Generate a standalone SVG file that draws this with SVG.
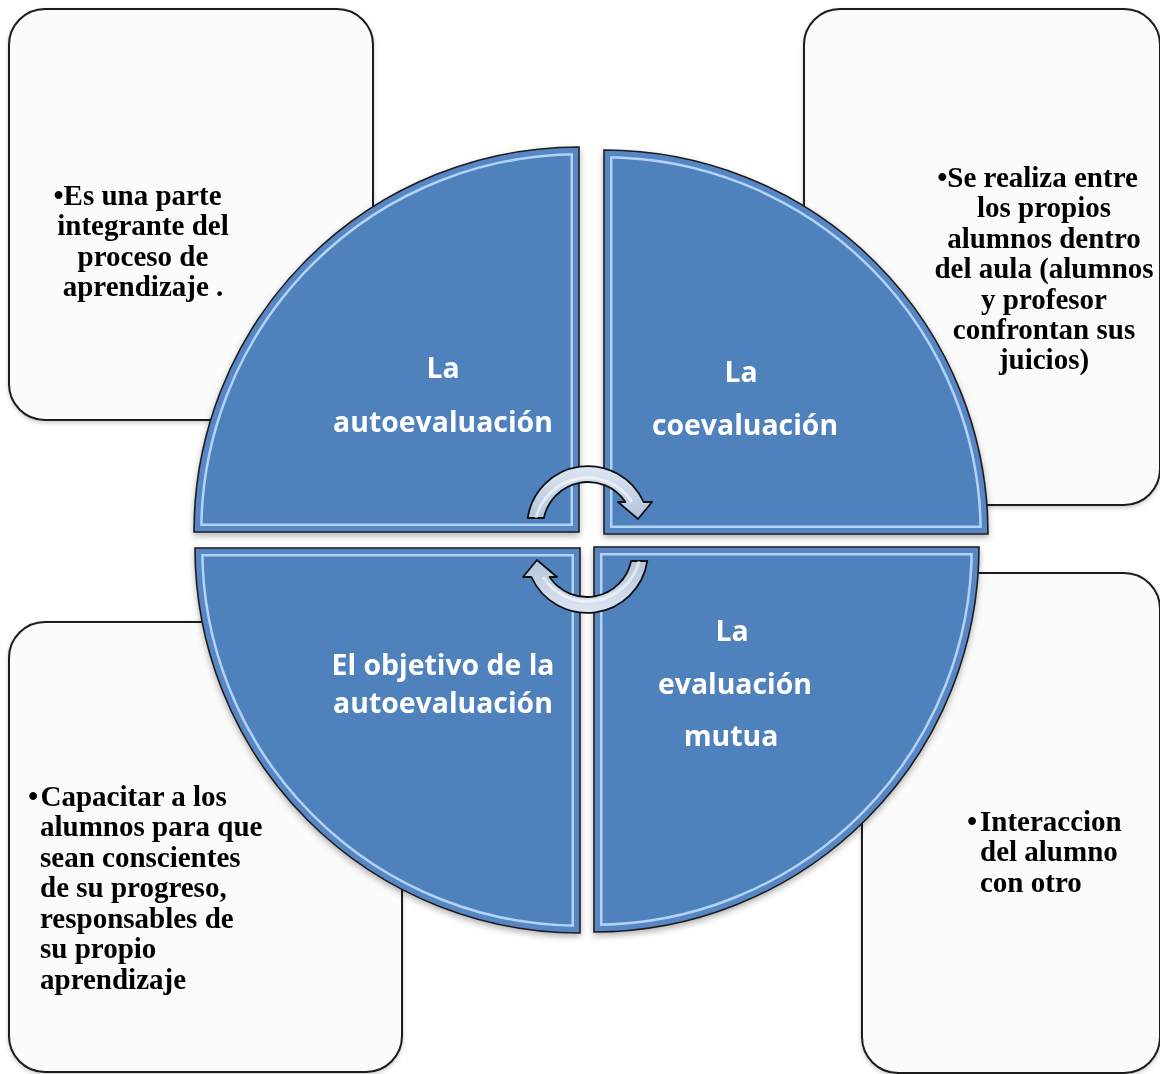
<svg xmlns="http://www.w3.org/2000/svg" width="1160" height="1074" viewBox="0 0 1160 1074">
<style>
.box{fill:#fbfbfb;stroke:#1a1a1a;stroke-width:2}
.btxt{font-family:"Liberation Serif","Times New Roman",serif;font-weight:bold;font-size:29px;fill:#000}
.stxt{font-family:"Open Sans","Noto Sans",sans-serif;font-weight:bold;font-size:28.4px;fill:#fff;text-anchor:middle}
.base{fill:#4f81bd;stroke:#b3d3f5;stroke-width:17}
.band{fill:none;stroke:#5787c4;stroke-width:12;stroke-linejoin:miter}
.edge{fill:none;stroke:#1e1e1e;stroke-width:1.6}
.arrow{fill:url(#ag);stroke:#111;stroke-width:1.8;stroke-linejoin:round}
</style>
<defs>
<filter id="sh" x="-10%" y="-10%" width="130%" height="130%"><feDropShadow dx="0" dy="3" stdDeviation="3" flood-color="#000" flood-opacity="0.3"/></filter>
<filter id="shb" x="-10%" y="-10%" width="130%" height="130%"><feDropShadow dx="0" dy="2" stdDeviation="2" flood-color="#000" flood-opacity="0.2"/></filter>
<linearGradient id="ag" x1="0" y1="0" x2="0" y2="1"><stop offset="0" stop-color="#dde6f2"/><stop offset="1" stop-color="#b4c4dc"/></linearGradient>
<path id="pTL" d="M579,532 L194,532 A385,385 0 0 1 579,147 Z"/>
<path id="pTR" d="M604,534 L604,150 A384,384 0 0 1 988,534 Z"/>
<path id="pBL" d="M580,548 L580,933 A385,385 0 0 1 195,548 Z"/>
<path id="pBR" d="M594,547 L979,547 A385,385 0 0 1 594,932 Z"/>
<clipPath id="cTL"><use href="#pTL"/></clipPath>
<clipPath id="cTR"><use href="#pTR"/></clipPath>
<clipPath id="cBL"><use href="#pBL"/></clipPath>
<clipPath id="cBR"><use href="#pBR"/></clipPath>
<path id="arr" d="M527.7,518 A61,61 0 0 1 643.6,502 L652,502 L638,519 L618,502 L625.4,502 A45,45 0 0 0 543.9,518 Z"/>
</defs>
<rect width="1160" height="1074" fill="#fff"/>

<g id="box-tl" filter="url(#shb)">
<rect class="box" x="9" y="9" width="364" height="411" rx="36"/>
<text class="btxt" text-anchor="middle"><tspan x="137.5" y="205">•Es una parte</tspan><tspan x="143" y="235.4">integrante del</tspan><tspan x="143" y="265.8">proceso de</tspan><tspan x="143" y="296.2">aprendizaje .</tspan></text>
</g>
<g id="box-tr" filter="url(#shb)">
<rect class="box" x="804" y="9" width="356" height="496" rx="36"/>
<text class="btxt" text-anchor="middle"><tspan x="1037.5" y="187">•Se realiza entre</tspan><tspan x="1044" y="217.4">los propios</tspan><tspan x="1044" y="247.8">alumnos dentro</tspan><tspan x="1044" y="278.2">del aula (alumnos</tspan><tspan x="1044" y="308.6">y profesor</tspan><tspan x="1044" y="339">confrontan sus</tspan><tspan x="1044" y="369.4">juicios)</tspan></text>
</g>
<g id="box-bl" filter="url(#shb)">
<rect class="box" x="9" y="622" width="393" height="450" rx="36"/>
<text class="btxt"><tspan x="28" y="805.5">•</tspan><tspan x="40.5" y="805.5">Capacitar a los</tspan><tspan x="40" y="836">alumnos para que</tspan><tspan x="40" y="866.5">sean conscientes</tspan><tspan x="40" y="897">de su progreso,</tspan><tspan x="40" y="927.5">responsables de</tspan><tspan x="40" y="958">su propio</tspan><tspan x="40" y="988.5">aprendizaje</tspan></text>
</g>
<g id="box-br" filter="url(#shb)">
<rect class="box" x="862" y="573" width="298" height="500" rx="36"/>
<text class="btxt"><tspan x="967" y="830.5">•</tspan><tspan x="980" y="830.5">Interaccion</tspan><tspan x="980" y="861">del alumno</tspan><tspan x="980" y="891.5">con otro</tspan></text>
</g>

<g id="sector-tl" filter="url(#sh)">
<g clip-path="url(#cTL)"><use href="#pTL" class="base"/><use href="#pTL" class="band"/></g>
<use href="#pTL" class="edge"/>
<text class="stxt"><tspan x="443" y="378">La</tspan><tspan x="443" y="432">autoevaluación</tspan></text>
</g>
<g id="sector-tr" filter="url(#sh)">
<g clip-path="url(#cTR)"><use href="#pTR" class="base"/><use href="#pTR" class="band"/></g>
<use href="#pTR" class="edge"/>
<text class="stxt"><tspan x="741" y="382">La</tspan><tspan x="745" y="435">coevaluación</tspan></text>
</g>
<g id="sector-bl" filter="url(#sh)">
<g clip-path="url(#cBL)"><use href="#pBL" class="base"/><use href="#pBL" class="band"/></g>
<use href="#pBL" class="edge"/>
<text class="stxt"><tspan x="443" y="675">El objetivo de la</tspan><tspan x="443" y="713">autoevaluación</tspan></text>
</g>
<g id="sector-br" filter="url(#sh)">
<g clip-path="url(#cBR)"><use href="#pBR" class="base"/><use href="#pBR" class="band"/></g>
<use href="#pBR" class="edge"/>
<text class="stxt"><tspan x="732" y="641">La</tspan><tspan x="735" y="693.5">evaluación</tspan><tspan x="731" y="746">mutua</tspan></text>
</g>

<g id="connectors">
<use href="#arr" class="arrow"/>
<path d="M536,518 A53,53 0 0 1 632,502" fill="none" stroke="#fff" stroke-width="3" stroke-opacity="0.55"/>
<g transform="rotate(180 587.5 539.5)">
<use href="#arr" class="arrow"/>
<path d="M536,518 A53,53 0 0 1 632,502" fill="none" stroke="#fff" stroke-width="3" stroke-opacity="0.55"/>
</g>
</g>
</svg>
